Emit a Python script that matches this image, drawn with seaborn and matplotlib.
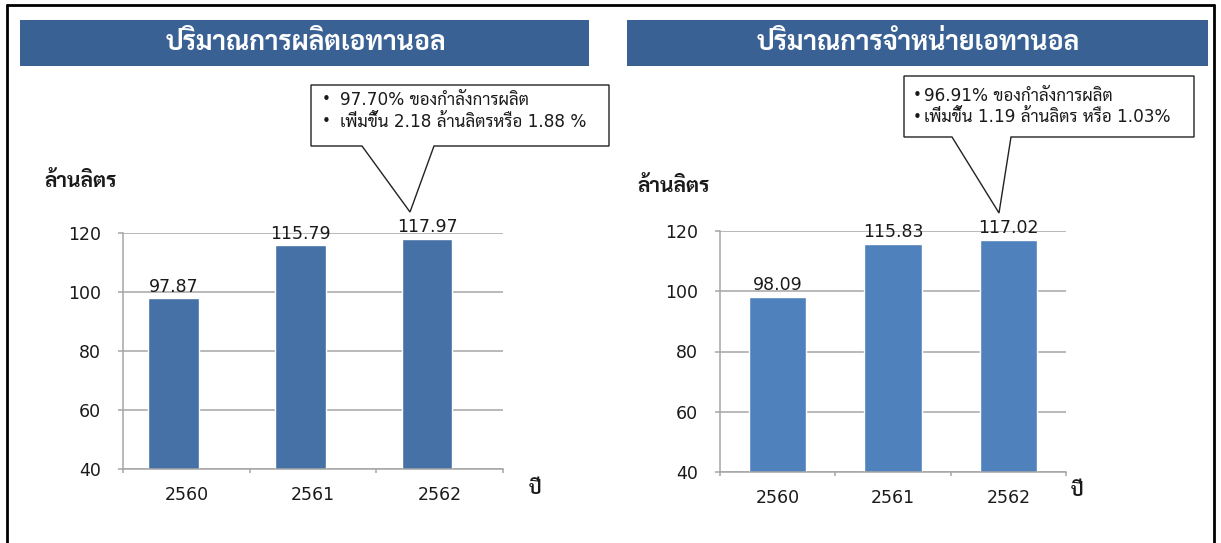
import matplotlib
matplotlib.use("Agg")
import matplotlib.pyplot as plt
import seaborn as sns
import pandas as pd
from matplotlib.patches import Polygon, Rectangle
from matplotlib.lines import Line2D

years = ["2560", "2561", "2562"]
production = [97.87, 115.79, 117.97]
sales = [98.09, 115.83, 117.02]

titles = ["ปริมาณการผลิตเอทานอล", "ปริมาณการจำหน่ายเอทานอล"]
unit_label = "ล้านลิตร"
year_label = "ปี"
note_prod = ["97.70% ของกำลังการผลิต", "เพิ่มขึ้น 2.18 ล้านลิตรหรือ 1.88 %"]
note_sales = ["96.91% ของกำลังการผลิต", "เพิ่มขึ้น 1.19 ล้านลิตร หรือ 1.03%"]

W, H = 1221, 543
FONTS = ["DejaVu Sans", "Sarabun", "Noto Sans Thai", "Anuphan"]

sns.set_theme(style="white")
plt.rcParams["font.family"] = FONTS


def px(x, y):
    return x / W, 1 - y / H


fig = plt.figure(figsize=(W / 100, H / 100), dpi=100)
fig.patch.set_facecolor("white")

# outer frame (top, left, right)
for xs, ys in [((7, 1214), (5, 5)), ((7, 7), (5, 543)), ((1214, 1214), (5, 543))]:
    p0, p1 = px(xs[0], ys[0]), px(xs[1], ys[1])
    fig.add_artist(Line2D([p0[0], p1[0]], [p0[1], p1[1]], color="black", lw=2,
                          transform=fig.transFigure))


def panel(values, box, bar_color, width, shift, title, banner, title_c, note,
          callout, text_rows, unit_xy, year_xy, bullet_x, text_x):
    df = pd.DataFrame({"year": years, "value": values})
    x0, y0, x1, y1 = box
    ax = fig.add_axes([x0 / W, 1 - y1 / H, (x1 - x0) / W, (y1 - y0) / H])
    sns.barplot(data=df, x="year", y="value", color=bar_color, width=width,
                saturation=1, ax=ax)
    # the original chart draws its bars a little left of the category centre
    for p in ax.patches:
        p.set_x(p.get_x() + shift)
    ax.set_ylim(40, 120)
    ax.set_xlim(-0.5, 2.5)
    ax.set_yticks([40, 60, 80, 100, 120])
    ax.yaxis.grid(True, color="#A6A6A6", lw=1.1)
    ax.set_axisbelow(True)
    for s in ["top", "right"]:
        ax.spines[s].set_visible(False)
    for s in ["left", "bottom"]:
        ax.spines[s].set_color("#A6A6A6")
        ax.spines[s].set_linewidth(1.1)
    ax.set_xlabel("")
    ax.set_ylabel("")
    ax.tick_params(axis="y", length=3.6, width=1.1, color="#A6A6A6", pad=12,
                   labelsize=12.5, left=True)
    ax.tick_params(axis="x", which="major", length=0, pad=12.5, labelsize=12.5)
    ax.set_xticks([-0.5, 0.5, 1.5, 2.5], minor=True)
    ax.tick_params(axis="x", which="minor", length=3.2, width=1.1, color="#A6A6A6",
                   bottom=True)
    for lab in ax.get_xticklabels() + ax.get_yticklabels():
        lab.set_color("#1a1a1a")
    ax.bar_label(ax.containers[0], fmt="%.2f", padding=2, fontsize=12.5,
                 color="#1a1a1a")

    # title banner
    bx0, by0, bx1, by1 = banner
    fig.add_artist(Rectangle(px(bx0, by1), (bx1 - bx0) / W, (by1 - by0) / H,
                             transform=fig.transFigure, facecolor="#3A6194",
                             edgecolor="none"))
    fig.text(*px(*title_c), title, color="white", fontsize=19, fontweight="bold",
             ha="center", va="center")

    fig.text(*px(*unit_xy), unit_label, fontsize=15, fontweight="bold",
             ha="left", va="center", color="#1a1a1a")
    fig.text(*px(*year_xy), year_label, fontsize=13.5, fontweight="bold",
             ha="left", va="center", color="#1a1a1a")

    # callout box with pointer
    cx0, cy0, cx1, cy1, pa, pb, tip = callout
    pts = [(cx0, cy0), (cx1, cy0), (cx1, cy1), (pb, cy1), tip, (pa, cy1), (cx0, cy1)]
    fig.add_artist(Polygon([px(*p) for p in pts], closed=True,
                           transform=fig.transFigure, facecolor="white",
                           edgecolor="#222222", lw=1))
    for yy, t in zip(text_rows, note):
        fig.text(*px(bullet_x, yy), "•", fontsize=11, ha="left", va="center",
                 color="#1a1a1a")
        fig.text(*px(text_x, yy), t, fontsize=12.2, ha="left",
                 va="center", color="#1a1a1a")
    return ax


panel(production, (123, 233, 503, 469), "#4571A6", 0.4, -0.1, titles[0],
      (20, 20, 589, 66), (306, 43), note_prod,
      (311, 85, 609, 146, 362, 434, (410, 212)), (100, 122),
      (44, 181), (529, 489), 322, 340)

panel(sales, (720, 231, 1066, 472), "#4F81BD", 0.5, 0.0, titles[1],
      (627, 20, 1208, 66), (918, 43), note_sales,
      (904, 76, 1194, 137, 952, 1011, (999, 213)), (96, 117),
      (637, 186), (1071, 491), 913, 924)

fig.savefig("out.png", dpi=100)
